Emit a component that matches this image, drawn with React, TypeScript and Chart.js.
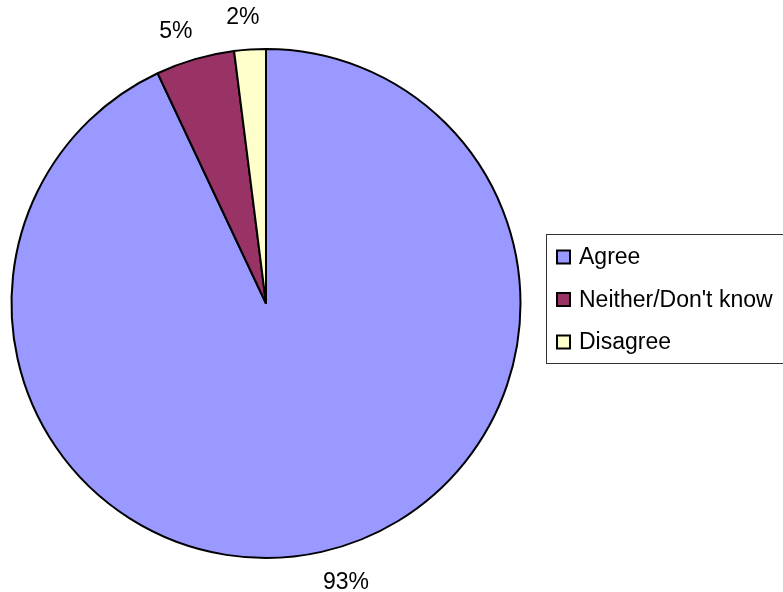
import React, { useEffect, useRef } from "react";
import { Chart, registerables } from "chart.js";

Chart.register(...registerables);

const categories = ["Agree", "Neither/Don't know", "Disagree"];
const values = [93, 5, 2];
const valueLabels = ["93%", "5%", "2%"];
const colors = ["#9999FF", "#993366", "#FFFFCC"];
const labelAngleNudge = [-3.5, -2, -1];

const FONT = '"Liberation Sans", Arial, sans-serif';

const labelPlugin = {
  id: "outsideLabels",
  afterDatasetsDraw(chart: any) {
    const ctx = chart.ctx;
    const meta = chart.getDatasetMeta(0);
    ctx.save();
    ctx.font = `23px ${FONT}`;
    ctx.fillStyle = "#000";
    ctx.textAlign = "center";
    ctx.textBaseline = "middle";
    meta.data.forEach((arc: any, i: number) => {
      const p = arc.getProps(["x", "y", "startAngle", "endAngle", "outerRadius"], true);
      const mid = (p.startAngle + p.endAngle) / 2 + (labelAngleNudge[i] * Math.PI) / 180;
      const r = p.outerRadius + 34;
      const x = p.x + Math.cos(mid) * r;
      const y = p.y + Math.sin(mid) * r;
      ctx.fillText(valueLabels[i], x, y + 2);
    });
    ctx.restore();
  },
};

const legendPlugin = {
  id: "boxLegend",
  afterDraw(chart: any) {
    const ctx = chart.ctx;
    const left = 546.5;
    const top = 234.5;
    const bottom = 363.5;
    ctx.save();
    ctx.strokeStyle = "#333";
    ctx.lineWidth = 1;
    ctx.strokeRect(left, top, 300, bottom - top);
    ctx.font = `23px ${FONT}`;
    ctx.textBaseline = "middle";
    ctx.textAlign = "left";
    const rowH = 42.5;
    categories.forEach((c, i) => {
      const cy = 257 + rowH * i;
      ctx.fillStyle = colors[i];
      ctx.fillRect(557, cy - 6.5, 13, 13);
      ctx.strokeStyle = "#000";
      ctx.lineWidth = 2;
      ctx.strokeRect(557, cy - 6.5, 13, 13);
      ctx.fillStyle = "#000";
      ctx.fillText(c, 579, cy + 1);
    });
    ctx.restore();
  },
};

export default function App() {
  const ref = useRef<HTMLCanvasElement>(null);
  useEffect(() => {
    if (!ref.current) return;
    const chart = new Chart(ref.current, {
      type: "pie",
      data: {
        labels: categories,
        datasets: [
          {
            data: values,
            backgroundColor: colors,
            borderColor: "#000",
            borderWidth: 2,
          },
        ],
      },
      options: {
        animation: false,
        responsive: false,
        layout: { padding: { left: 10.5, right: 261.5, top: 48, bottom: 33 } },
        plugins: {
          legend: { display: false },
          tooltip: { enabled: false },
        },
      },
      plugins: [labelPlugin, legendPlugin],
    });
    return () => chart.destroy();
  }, []);
  return (
    <div style={{ position: "absolute", left: 0, top: 0, width: 783, height: 592, background: "#fff" }}>
      <canvas ref={ref} width={783} height={592} />
    </div>
  );
}
